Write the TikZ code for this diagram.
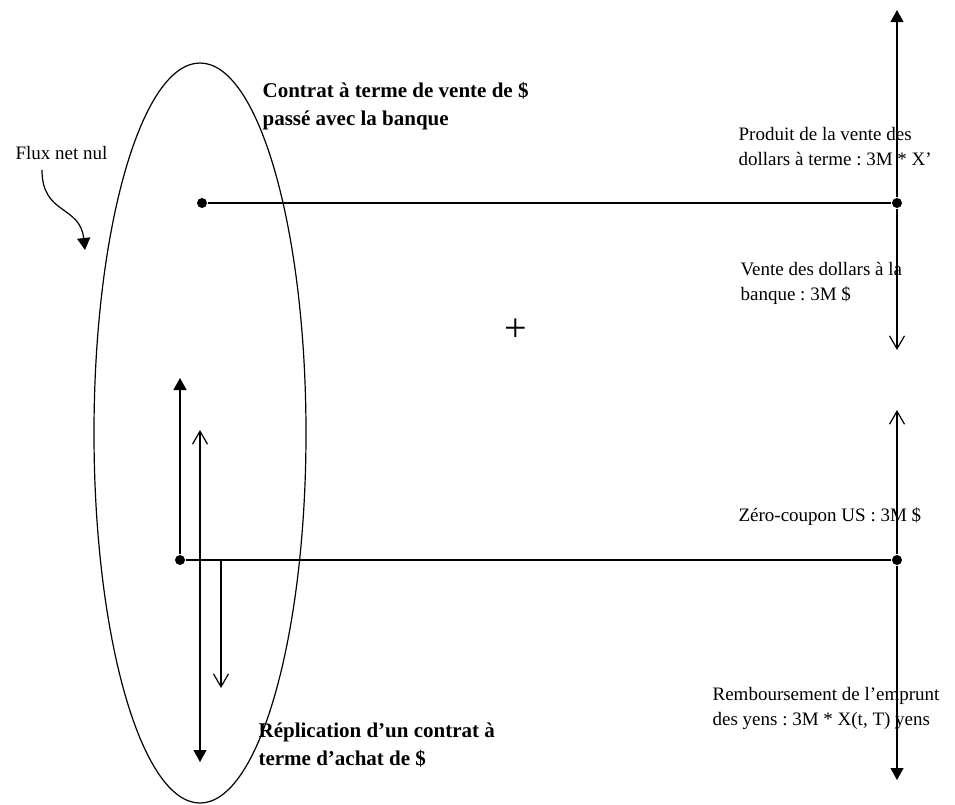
\documentclass[tikz,border=0pt]{standalone}
\usepackage{fontspec}
\setmainfont{Liberation Serif}
\usetikzlibrary{arrows.meta}
\frenchspacing
\begin{document}
\begin{tikzpicture}[x=1pt,y=-1pt,line width=1.2pt,
  full/.style={-{Triangle[length=12pt,width=13pt]}},
  barb/.style={-{Straight Barb[length=13pt,width=15pt]}},
  flowdot/.style={circle,fill,inner sep=0pt,minimum size=10pt},
  lbl/.style={anchor=west,inner sep=0pt,align=left,font=\fontsize{19}{25}\selectfont},
  ttl/.style={anchor=west,inner sep=0pt,align=left,font=\bfseries\fontsize{21}{28}\selectfont}]
 \useasboundingbox (0,0) rectangle (955,804);
 \draw (200,433) ellipse [x radius=106pt,y radius=370pt];
 \node[flowdot] (a1) at (202,203) {}; \node[flowdot] (a2) at (897,203) {};
 \node[flowdot] (b1) at (180,560) {}; \node[flowdot] (b2) at (897,560) {};
 \coordinate (atop) at (897,10); \coordinate (abot) at (897,350);
 \coordinate (btop) at (897,410); \coordinate (bbot) at (897,780);
 \coordinate (lup) at (180,378);
 \coordinate (ltop) at (200,430); \coordinate (lbot) at (200,762);
 \coordinate (lmid) at (221,560); \coordinate (lend) at (221,688);
 \coordinate (fluxtail) at (42,170); \coordinate (fluxtip) at (85,250);
 \draw (a1) -- (a2); \draw (b1) -- (b2);
 \draw[full] (a2) -- (atop); \draw[barb] (a2) -- (abot);
 \draw[barb] (b2) -- (btop); \draw[full] (b2) -- (bbot);
 \draw[full] (b1) -- (lup);
 \draw[{Straight Barb[length=13pt,width=15pt]}-{Triangle[length=12pt,width=13pt]}] (ltop) -- (lbot);
 \draw[barb] (lmid) -- (lend);
 \draw[full] (fluxtail) .. controls (42,215) and (80,205) .. (fluxtip);
 \node[ttl] (sell) at (262,106) {Contrat à terme de vente de \$\\passé avec la banque};
 \node[lbl] (flux) at (15,153) {Flux net nul};
 \node[lbl] (prod) at (738,147) {Produit de la vente des\\dollars à terme : 3M * X’};
 \node[lbl] (vente) at (740,283) {Vente des dollars à la\\banque : 3M \$};
 \node[font=\fontsize{40}{40}\selectfont] (plus) at (516,330) {+};
 \node[lbl] (zc) at (738,517) {Zéro-coupon US : 3M \$};
 \node[lbl] (remb) at (712,708) {Remboursement de l’emprunt\\des yens : 3M * X(t, T) yens};
 \node[ttl] (repl) at (258,745) {Réplication d’un contrat à\\terme d’achat de \$};
\end{tikzpicture}
\end{document}
